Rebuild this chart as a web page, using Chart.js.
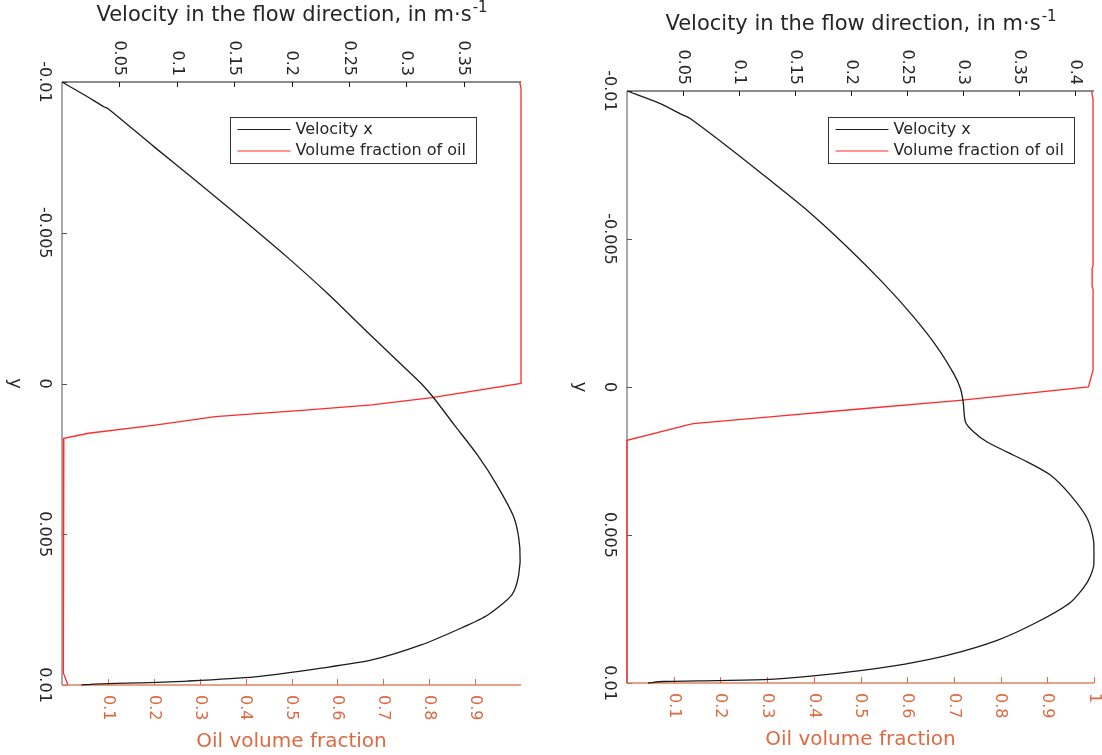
<!DOCTYPE html>
<html>
<head>
<meta charset="utf-8">
<script src="https://cdn.jsdelivr.net/npm/chart.js@4"></script>
<style>
  html, body { margin: 0; padding: 0; background: #fff; }
  #wrap { position: relative; width: 1102px; height: 755px; }
  .panel { position: absolute; top: 0; width: 551px; height: 755px; }
</style>
</head>
<body>
<div id="wrap">
  <div class="panel" style="left:0"><canvas id="chartLeft"></canvas></div>
  <div class="panel" style="left:551px"><canvas id="chartRight"></canvas></div>
</div>
<script>
// values (y position in m, velocity in m/s, oil fraction)
var leftVelY = [-0.01, -0.00957, -0.00917, -0.00912, -0.00784, -0.00668, -0.00549, -0.0042, -0.0030, -0.00171, -0.00055, 0.0,
                0.00048, 0.00138, 0.00237, 0.00337, 0.00446, 0.00546, 0.00635, 0.00701, 0.00768, 0.00811, 0.00867,
                0.00917, 0.00944, 0.00973, 0.00987, 0.00993, 0.00997, 0.01];
var leftVel  = [0, 0.0196, 0.037, 0.040, 0.0806, 0.118, 0.156, 0.196, 0.231, 0.266, 0.298, 0.313,
                0.324, 0.342, 0.362, 0.379, 0.394, 0.399, 0.398, 0.392, 0.371, 0.348, 0.313,
                0.270, 0.226, 0.168, 0.109, 0.066, 0.028, 0.017];
var leftOilY = [-0.01, -0.0098, 0.0, 0.00047, 0.00071, 0.00088, 0.00110, 0.00138, 0.00165, 0.00182, 0.0096, 0.01];
var leftOil  = [0.997, 1.0, 1.0, 0.806, 0.675, 0.530, 0.334, 0.203, 0.058, 0.004, 0.003, 0.013];

var rightVelY = [-0.01, -0.00958, -0.00921, -0.00908, -0.00806, -0.00699, -0.00598, -0.00474, -0.0035, -0.00237, -0.00135,
                 -0.00045, 0.00005, 0.00051, 0.00118, 0.00152, 0.00186, 0.0022, 0.00253, 0.00298, 0.00366, 0.00445,
                 0.00524, 0.00603, 0.00659, 0.00727, 0.00794, 0.00856, 0.00907, 0.00937, 0.00958, 0.00976, 0.00988,
                 0.00992, 0.00995, 0.01];
var rightVel  = [0, 0.0292, 0.0486, 0.056, 0.0918, 0.1275, 0.1604, 0.1962, 0.2289, 0.2557, 0.2767,
                 0.2915, 0.2975, 0.300, 0.302, 0.3094, 0.3214, 0.3393, 0.3572, 0.378, 0.3959, 0.4108,
                 0.4165, 0.4165, 0.4108, 0.3959, 0.3661, 0.3303, 0.2856, 0.2468, 0.208, 0.1663, 0.1275,
                 0.0799, 0.0321, 0.0187];
var rightOilY = [-0.01, -0.0097, -0.0041, -0.0040, -0.0034, -0.0033, -0.00057, 0.0, 0.00045, 0.00076, 0.00101,
                 0.00124, 0.00129, 0.0018, 0.01];
var rightOil  = [0.995, 0.998, 0.998, 0.996, 0.996, 0.998, 0.998, 0.988, 0.713, 0.485, 0.306,
                 0.142, 0.128, 0.0, 0.0];

var yTicks = [-0.01, -0.005, 0, 0.005, 0.01];
var yTickLabels = ['-0.01', '-0.005', '0', '0.005', '0.01'];
var velTicksLeft  = [0.05, 0.1, 0.15, 0.2, 0.25, 0.3, 0.35];
var velTicksRight = [0.05, 0.1, 0.15, 0.2, 0.25, 0.3, 0.35, 0.4];
var oilTicksLeft  = [0.1, 0.2, 0.3, 0.4, 0.5, 0.6, 0.7, 0.8, 0.9];
var oilTicksRight = [0.1, 0.2, 0.3, 0.4, 0.5, 0.6, 0.7, 0.8, 0.9, 1];

var seriesNames = ['Velocity x', 'Volume fraction of oil'];
var velTitle = 'Velocity in the flow direction, in m\u00b7s';
var velTitleExp = '-1';
var oilTitle = 'Oil volume fraction';
var yTitle = 'y';

var FONT = '"DejaVu Sans", sans-serif';
var textColor = '#262626';
var oilColor = '#dc6a42';
var oilAxisColor = '#e58060';

function pts(xs, ys) {
    return xs.map(function (x, i) { return { x: x, y: ys[i] }; });
}

function rotText(ctx, txt, x, y, align) {
    ctx.save();
    ctx.translate(x, y);
    ctx.rotate(Math.PI / 2);
    ctx.textAlign = align;
    ctx.textBaseline = 'middle';
    ctx.fillText(txt, 0, 0);
    ctx.restore();
}

function seg(ctx, x1, y1, x2, y2) {
    ctx.beginPath();
    ctx.moveTo(x1, y1);
    ctx.lineTo(x2, y2);
    ctx.stroke();
}

// axes are drawn by hand so the labels can be turned like the original figure
var axesPlugin = {
    id: 'turnedAxes',
    beforeDatasetsDraw: function (chart, args, o) {
        var ctx = chart.ctx, a = chart.chartArea;
        var sy = chart.scales.y, sv = chart.scales.xv, sf = chart.scales.xf;
        ctx.save();

        // left (y) axis
        ctx.strokeStyle = '#8c8c8c';
        ctx.lineWidth = 1.5;
        seg(ctx, a.left, a.top, a.left, a.bottom);
        ctx.lineWidth = 1;
        ctx.strokeStyle = '#555';
        o.yTicks.forEach(function (t) {
            var p = Math.round(sy.getPixelForValue(t)) + 0.5;
            seg(ctx, a.left, p, a.left + 5, p);
        });
        ctx.fillStyle = textColor;
        ctx.font = '16px ' + FONT;
        o.yTicks.forEach(function (t, i) {
            rotText(ctx, o.yLabels[i], a.left - 18, sy.getPixelForValue(t), 'center');
        });
        ctx.font = '18px ' + FONT;
        rotText(ctx, yTitle, a.left - 47, (a.top + a.bottom) / 2, 'center');

        // top (velocity) axis
        ctx.strokeStyle = '#1a1a1a';
        ctx.lineWidth = 1.2;
        seg(ctx, a.left, a.top, a.right, a.top);
        ctx.lineWidth = 1;
        o.velTicks.forEach(function (t) {
            var p = Math.round(sv.getPixelForValue(t)) + 0.5;
            seg(ctx, p, a.top, p, a.top + 5);
        });
        ctx.font = '16px ' + FONT;
        o.velTicks.forEach(function (t) {
            rotText(ctx, String(t), sv.getPixelForValue(t), a.top - 6, 'right');
        });
        // title with superscript
        ctx.font = '21px ' + FONT;
        var w1 = ctx.measureText(velTitle).width;
        ctx.font = '15px ' + FONT;
        var w2 = ctx.measureText(velTitleExp).width;
        var tx = (a.left + a.right) / 2 - (w1 + w2) / 2;
        var ty = a.top - o.titleGap;
        ctx.textBaseline = 'middle';
        ctx.textAlign = 'left';
        ctx.font = '21px ' + FONT;
        ctx.fillText(velTitle, tx, ty);
        ctx.font = '15px ' + FONT;
        ctx.fillText(velTitleExp, tx + w1 + 1, ty - 8);

        // bottom (oil fraction) axis
        ctx.strokeStyle = oilAxisColor;
        ctx.lineWidth = 1.5;
        seg(ctx, a.left, a.bottom, a.right, a.bottom);
        ctx.lineWidth = 1;
        ctx.strokeStyle = oilColor;
        o.oilTicks.forEach(function (t) {
            var p = Math.round(sf.getPixelForValue(t)) + 0.5;
            seg(ctx, p, a.bottom, p, a.bottom - 6);
        });
        ctx.fillStyle = oilColor;
        ctx.font = '16px ' + FONT;
        o.oilTicks.forEach(function (t) {
            rotText(ctx, String(t), sf.getPixelForValue(t), a.bottom + 10, 'left');
        });
        ctx.font = '20px ' + FONT;
        ctx.textAlign = 'center';
        ctx.textBaseline = 'middle';
        ctx.fillText(oilTitle, (a.left + a.right) / 2, a.bottom + 57);

        ctx.restore();
    },
    afterDatasetsDraw: function (chart, args, o) {
        // legend box inside the plot
        var ctx = chart.ctx, a = chart.chartArea;
        var bx = a.left + o.legendX + 0.5, by = a.top + o.legendY + 0.5;
        ctx.save();
        ctx.fillStyle = '#fff';
        ctx.fillRect(bx, by, 246, 46);
        ctx.strokeStyle = '#333';
        ctx.lineWidth = 1;
        ctx.strokeRect(bx, by, 246, 46);
        ctx.font = '16px ' + FONT;
        ctx.textAlign = 'left';
        ctx.textBaseline = 'middle';
        chart.data.datasets.forEach(function (ds, i) {
            var ly = by + 12 + i * 21.5;
            ctx.strokeStyle = ds.borderColor;
            ctx.lineWidth = 1.2;
            seg(ctx, bx + 7, ly, bx + 60, ly);
            ctx.fillStyle = textColor;
            ctx.fillText(ds.label, bx + 65, ly);
        });
        ctx.restore();
    }
};

function makeChart(id, velY, vel, oilY, oil, velMax, panel) {
    return new Chart(document.getElementById(id), {
        type: 'scatter',
        data: {
            datasets: [{
                label: seriesNames[0],
                data: pts(vel, velY),
                xAxisID: 'xv',
                showLine: true,
                tension: 0.25,
                borderColor: '#1c1c1c',
                borderWidth: 1.3,
                pointRadius: 0,
                clip: false
            }, {
                label: seriesNames[1],
                data: pts(oil, oilY),
                xAxisID: 'xf',
                showLine: true,
                borderColor: '#ff2a2a',
                borderWidth: 1.3,
                pointRadius: 0,
                clip: false
            }]
        },
        options: {
            responsive: true,
            maintainAspectRatio: false,
            animation: false,
            devicePixelRatio: 1,
            layout: { padding: panel.padding },
            plugins: {
                legend: { display: false },
                tooltip: { enabled: false },
                turnedAxes: {
                    yTicks: yTicks,
                    yLabels: yTickLabels,
                    velTicks: panel.velTicks,
                    oilTicks: panel.oilTicks,
                    titleGap: 66,
                    legendX: panel.legendX,
                    legendY: panel.legendY
                }
            },
            scales: {
                y:  { display: false, reverse: true, min: -0.01, max: 0.01 },
                xv: { display: false, type: 'linear', position: 'top', min: 0, max: velMax },
                xf: { display: false, type: 'linear', position: 'bottom', min: 0, max: 1 }
            }
        },
        plugins: [axesPlugin]
    });
}

makeChart('chartLeft', leftVelY, leftVel, leftOilY, leftOil, 0.4, {
    padding: { left: 62, right: 30, top: 82, bottom: 70 },
    velTicks: velTicksLeft,
    oilTicks: oilTicksLeft,
    legendX: 168, legendY: 35
});

makeChart('chartRight', rightVelY, rightVel, rightOilY, rightOil, 0.4167, {
    padding: { left: 76, right: 8, top: 91, bottom: 72 },
    velTicks: velTicksRight,
    oilTicks: oilTicksRight,
    legendX: 201, legendY: 26
});
</script>
</body>
</html>
